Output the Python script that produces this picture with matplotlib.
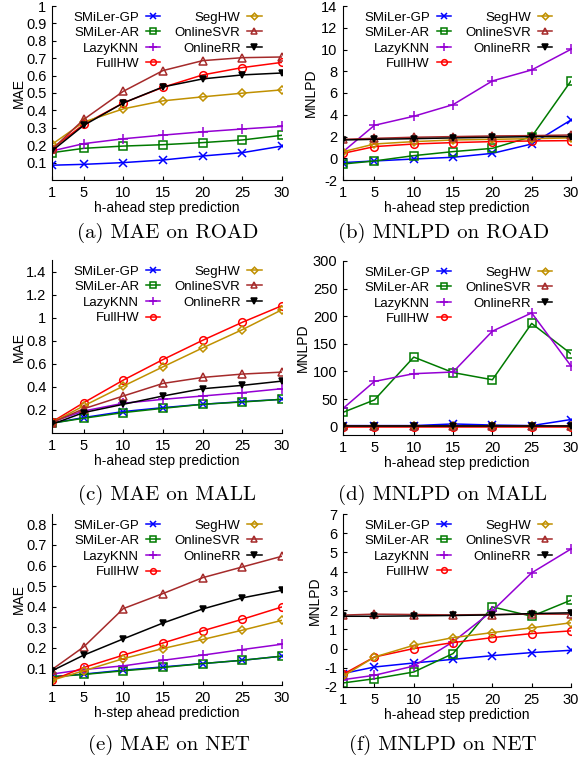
import numpy as np
import matplotlib
matplotlib.use('Agg')
import matplotlib.pyplot as plt

plt.rcParams['font.family'] = ['Liberation Sans', 'DejaVu Sans']
plt.rcParams['font.size'] = 10

steps = [1, 5, 10, 15, 20, 25, 30]
methods = ["SMiLer-GP", "SMiLer-AR", "LazyKNN", "FullHW", "SegHW", "OnlineSVR", "OnlineRR"]

# MAE on ROAD
mae_road = {
    "SMiLer-GP": [0.085, 0.09, 0.10, 0.115, 0.138, 0.157, 0.195],
    "SMiLer-AR": [0.157, 0.182, 0.195, 0.203, 0.215, 0.23, 0.257],
    "LazyKNN": [0.167, 0.209, 0.237, 0.258, 0.277, 0.293, 0.308],
    "FullHW": [0.18, 0.32, 0.443, 0.533, 0.604, 0.646, 0.676],
    "SegHW": [0.205, 0.333, 0.409, 0.455, 0.478, 0.499, 0.518],
    "OnlineSVR": [0.176, 0.348, 0.51, 0.629, 0.686, 0.703, 0.707],
    "OnlineRR": [0.167, 0.314, 0.443, 0.535, 0.581, 0.604, 0.615],
}
# MNLPD on ROAD
mnlpd_road = {
    "SMiLer-GP": [-0.40, -0.25, -0.07, 0.09, 0.45, 1.31, 3.52],
    "SMiLer-AR": [-0.53, -0.25, 0.24, 0.61, 0.91, 1.99, 7.11],
    "LazyKNN": [0.6, 3.03, 3.86, 4.93, 7.11, 8.12, 10.02],
    "FullHW": [0.45, 1.07, 1.31, 1.44, 1.53, 1.59, 1.62],
    "SegHW": [0.6, 1.31, 1.53, 1.68, 1.74, 1.8, 1.87],
    "OnlineSVR": [1.74, 1.83, 1.93, 1.99, 2.05, 2.08, 2.14],
    "OnlineRR": [1.68, 1.74, 1.8, 1.87, 1.93, 1.99, 1.99],
}
# MAE on MALL
mae_mall = {
    "SMiLer-GP": [0.085, 0.134, 0.186, 0.22, 0.249, 0.272, 0.292],
    "SMiLer-AR": [0.085, 0.128, 0.177, 0.214, 0.249, 0.269, 0.292],
    "LazyKNN": [0.096, 0.191, 0.258, 0.292, 0.321, 0.35, 0.384],
    "FullHW": [0.096, 0.263, 0.459, 0.637, 0.804, 0.96, 1.104],
    "SegHW": [0.09, 0.235, 0.407, 0.574, 0.738, 0.896, 1.069],
    "OnlineSVR": [0.09, 0.21, 0.321, 0.43, 0.482, 0.511, 0.528],
    "OnlineRR": [0.076, 0.177, 0.249, 0.321, 0.384, 0.413, 0.45],
}
# MNLPD on MALL
mnlpd_mall = {
    "SMiLer-GP": [2, 2, 2, 5, 3, 2, 13],
    "SMiLer-AR": [26, 48.5, 126, 98, 85, 187, 132],
    "LazyKNN": [33, 82, 96, 99, 173, 206, 110],
    "FullHW": [-1, -1, -1, -1, -1, -1, -1],
    "SegHW": [0.5, 0.5, 0.5, 0.5, 0.5, 0.5, 0.5],
    "OnlineSVR": [1.5, 1.5, 1.5, 1.5, 1.5, 1.5, 1.5],
    "OnlineRR": [1.8, 1.8, 1.8, 1.8, 1.8, 1.8, 1.8],
}
# MAE on NET
mae_net = {
    "SMiLer-GP": [0.06, 0.073, 0.092, 0.108, 0.124, 0.14, 0.16],
    "SMiLer-AR": [0.06, 0.071, 0.089, 0.105, 0.124, 0.14, 0.16],
    "LazyKNN": [0.073, 0.095, 0.113, 0.14, 0.165, 0.192, 0.218],
    "FullHW": [0.043, 0.105, 0.165, 0.224, 0.283, 0.339, 0.399],
    "SegHW": [0.043, 0.089, 0.148, 0.197, 0.241, 0.286, 0.334],
    "OnlineSVR": [0.095, 0.205, 0.391, 0.464, 0.541, 0.593, 0.645],
    "OnlineRR": [0.089, 0.165, 0.244, 0.321, 0.389, 0.443, 0.48],
}
# MNLPD on NET
mnlpd_net = {
    "SMiLer-GP": [-1.30, -0.96, -0.75, -0.56, -0.37, -0.21, -0.09],
    "SMiLer-AR": [-1.79, -1.57, -1.22, -0.26, 2.17, 1.68, 2.52],
    "LazyKNN": [-1.62, -1.39, -0.91, 0.35, 1.96, 3.94, 5.18],
    "FullHW": [-1.34, -0.44, 0.0, 0.31, 0.57, 0.78, 0.92],
    "SegHW": [-1.44, -0.44, 0.17, 0.57, 0.83, 1.08, 1.34],
    "OnlineSVR": [1.74, 1.79, 1.77, 1.75, 1.77, 1.79, 1.79],
    "OnlineRR": [1.68, 1.68, 1.70, 1.72, 1.75, 1.82, 1.86],
}

styles = {
    "SMiLer-GP": dict(color="#0000ff", marker="x", mfc="none"),
    "SMiLer-AR": dict(color="#007a00", marker="s", mfc="none"),
    "LazyKNN": dict(color="#9400d3", marker="+", mfc="none", ms=7),
    "FullHW": dict(color="#ff0000", marker="o", mfc="none"),
    "SegHW": dict(color="#c09000", marker="D", mfc="none", ms=4.5),
    "OnlineSVR": dict(color="#a52a2a", marker="^", mfc="none"),
    "OnlineRR": dict(color="#000000", marker="v", mfc="#000000", ms=5),
}

panels = [
    (mae_road, "MAE", (0, 1.0), np.arange(0.1, 1.01, 0.1), "h-ahead step prediction", "(a) MAE on ROAD"),
    (mnlpd_road, "MNLPD", (-2, 14), np.arange(-2, 15, 2), "h-ahead step prediction", "(b) MNLPD on ROAD"),
    (mae_mall, "MAE", (0, 1.5), np.arange(0.2, 1.41, 0.2), "h-ahead step prediction", "(c) MAE on MALL"),
    (mnlpd_mall, "MNLPD", (-15, 300), np.arange(0, 301, 50), "h-ahead step prediction", "(d) MNLPD on MALL"),
    (mae_net, "MAE", (0.02, 0.85), np.arange(0.1, 0.81, 0.1), "h-step ahead prediction", "(e) MAE on NET"),
    (mnlpd_net, "MNLPD", (-2, 7), np.arange(-2, 8, 1), "h-ahead step prediction", "(f) MNLPD on NET"),
]

W, H = 586, 762
# axes boxes in pixels: left, top, right, bottom
boxes = [
    (52, 6, 282, 180), (343, 6, 571, 180),
    (52, 260, 282, 433), (343, 261, 571, 435),
    (52, 514, 282, 685), (343, 514, 571, 687),
]
captions_xy = [(168, 233), (444, 233), (167, 495), (443, 495), (169, 745), (443, 745)]

fig = plt.figure(figsize=(W / 100, H / 100), dpi=100)

for (data, ylab, ylim, yticks, xlab, cap), (l, t, r, b), (cx, cy) in zip(panels, boxes, captions_xy):
    ax = fig.add_axes([l / W, 1 - b / H, (r - l) / W, (b - t) / H])
    for m in methods:
        st = dict(styles[m])
        ms = st.pop("ms", 5.5)
        ax.plot(steps, data[m], label=m, lw=1.1, ms=ms, mew=1.1, **st)
    ax.set_xlim(1, 30)
    ax.set_ylim(*ylim)
    ax.set_xticks(steps)
    ax.set_yticks(yticks)
    ax.set_yticklabels(["{:g}".format(round(v, 2)) for v in yticks])
    ax.spines["top"].set_visible(False)
    ax.spines["right"].set_visible(False)
    ax.tick_params(direction="in", length=3, labelsize=10.5, pad=4)
    ax.set_xlabel(xlab, fontsize=10, labelpad=1)
    ax.set_ylabel(ylab, fontsize=10, labelpad=0 if ylab == "MAE" else 2)
    ax.legend(ncol=2, markerfirst=False, frameon=False, loc="upper left",
              bbox_to_anchor=(0.07, 1.0), fontsize=9.5, handlelength=1.1,
              handletextpad=0.5, columnspacing=1.1, labelspacing=0.25,
              borderaxespad=0, markerscale=0.75)
    fig.text(cx / W, 1 - cy / H, cap, ha="center", va="center",
             fontsize=15, fontname="cmr10")

fig.savefig("out.png", dpi=100)
